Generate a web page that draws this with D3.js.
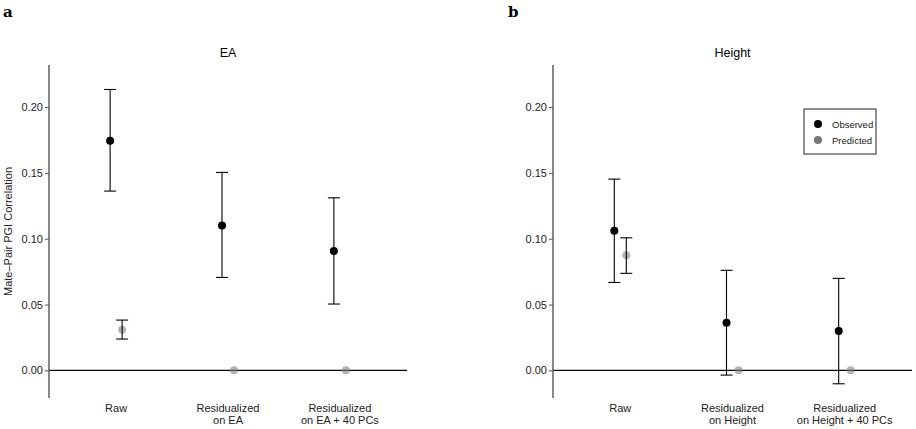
<!DOCTYPE html>
<html>
<head>
<meta charset="utf-8">
<script src="https://cdn.jsdelivr.net/npm/d3@7"></script>
<style>
  body { margin: 0; background: #fff; }
  svg text { font-family: "Liberation Sans", Arial, sans-serif; }
</style>
</head>
<body>
<svg id="chart" width="916" height="429"></svg>
<script>
// categories and values
const eaCategories = ['Raw', 'Residualized\non EA', 'Residualized\non EA + 40 PCs'];
const heightCategories = ['Raw', 'Residualized\non Height', 'Residualized\non Height + 40 PCs'];
const yTicks = [0, 0.05, 0.10, 0.15, 0.20];

const eaObserved = [0.1744, 0.1101, 0.0906];
const eaObservedLow = [0.1362, 0.0706, 0.0504];
const eaObservedHigh = [0.2134, 0.1504, 0.1311];
const eaPredicted = [0.0308, 0, 0];
const eaPredictedLow = [0.0238, null, null];
const eaPredictedHigh = [0.0382, null, null];

const heightObserved = [0.1060, 0.0362, 0.0299];
const heightObservedLow = [0.0668, -0.0036, -0.0102];
const heightObservedHigh = [0.1453, 0.0760, 0.0699];
const heightPredicted = [0.0874, 0, 0];
const heightPredictedLow = [0.0737, null, null];
const heightPredictedHigh = [0.1007, null, null];

const svg = d3.select('#chart');

const drawPanel = (opts) => {
  const { left, right, top, bottom, title, letter, letterX, categories, obs, obsLo, obsHi, pred, predLo, predHi, yLabel, legend } = opts;

  const y = d3.scaleLinear().domain([-0.021, 0.232]).range([bottom, top]);
  const x = d3.scalePoint().domain(categories).range([left, right]).padding(0.6);
  const dodge = 6;

  const g = svg.append('g');

  // panel letter
  svg.append('text')
    .attr('x', letterX).attr('y', 17)
    .style('font-family', '"DejaVu Serif", "Liberation Serif", serif')
    .style('font-weight', 'bold')
    .style('font-size', '15px')
    .text(letter);

  // title
  g.append('text')
    .attr('x', (left + right) / 2).attr('y', 57)
    .attr('text-anchor', 'middle')
    .style('font-size', '12.5px')
    .text(title);

  // zero line
  g.append('line')
    .attr('x1', left).attr('x2', right)
    .attr('y1', y(0)).attr('y2', y(0))
    .attr('stroke', '#000').attr('stroke-width', 1.1);

  // y axis
  const yAxis = d3.axisLeft(y).tickValues(yTicks).tickSize(4).tickPadding(2)
    .tickFormat(d3.format('.2f'));
  const ya = g.append('g').attr('transform', `translate(${left},0)`).call(yAxis);
  ya.select('.domain').attr('d', `M0,${top}V${bottom}`).attr('stroke', '#555').attr('stroke-width', 1.4);
  ya.selectAll('.tick line').attr('stroke', '#555');
  ya.selectAll('.tick text').style('font-size', '11px').attr('fill', '#222')
    .style('font-family', '"Liberation Sans", Arial, sans-serif');

  // x labels
  categories.forEach(c => {
    const lines = c.split('\n');
    const t = g.append('text')
      .attr('text-anchor', 'middle')
      .attr('y', 412)
      .style('font-size', '11px')
      .attr('fill', '#222');
    lines.forEach((l, i) => {
      t.append('tspan').attr('x', x(c)).attr('dy', i === 0 ? 0 : 12).text(l);
    });
  });

  // predicted points (behind error bars)
  categories.forEach((c, i) => {
    g.append('circle')
      .attr('cx', x(c) + dodge).attr('cy', y(pred[i])).attr('r', 4)
      .attr('fill', '#808080').attr('fill-opacity', 0.6);
  });

  const errorBar = (cx, lo, hi) => {
    g.append('line').attr('x1', cx).attr('x2', cx).attr('y1', y(lo)).attr('y2', y(hi))
      .attr('stroke', '#000').attr('stroke-width', 1.1);
    [lo, hi].forEach(v => {
      g.append('line').attr('x1', cx - 6).attr('x2', cx + 6).attr('y1', y(v)).attr('y2', y(v))
        .attr('stroke', '#000').attr('stroke-width', 1.1);
    });
  };

  categories.forEach((c, i) => {
    errorBar(x(c) - dodge, obsLo[i], obsHi[i]);
    if (predLo[i] !== null) errorBar(x(c) + dodge, predLo[i], predHi[i]);
  });

  categories.forEach((c, i) => {
    g.append('circle')
      .attr('cx', x(c) - dodge).attr('cy', y(obs[i])).attr('r', 4)
      .attr('fill', '#000');
  });

  if (yLabel) {
    svg.append('text')
      .attr('transform', `translate(12,${(top + bottom) / 2}) rotate(-90)`)
      .attr('text-anchor', 'middle')
      .style('font-size', '11px')
      .attr('fill', '#222')
      .text(yLabel);
  }

  if (legend) {
    const lg = g.append('g').attr('transform', 'translate(804,109)');
    lg.append('rect').attr('width', 72).attr('height', 45)
      .attr('fill', '#fff').attr('stroke', '#222').attr('stroke-width', 1);
    [['Observed', '#000'], ['Predicted', '#777']].forEach((d, i) => {
      lg.append('circle').attr('cx', 14).attr('cy', 15 + i * 16).attr('r', 4).attr('fill', d[1]);
      lg.append('text').attr('x', 28).attr('y', 19 + i * 16)
        .style('font-size', '9.5px').attr('fill', '#222').text(d[0]);
    });
  }
};

drawPanel({
  left: 49, right: 407, top: 65, bottom: 398,
  title: 'EA', letter: 'a', letterX: 3,
  categories: eaCategories,
  obs: eaObserved, obsLo: eaObservedLow, obsHi: eaObservedHigh,
  pred: eaPredicted, predLo: eaPredictedLow, predHi: eaPredictedHigh,
  yLabel: 'Mate\u2013Pair PGI Correlation'
});

drawPanel({
  left: 553, right: 912, top: 65, bottom: 398,
  title: 'Height', letter: 'b', letterX: 508,
  categories: heightCategories,
  obs: heightObserved, obsLo: heightObservedLow, obsHi: heightObservedHigh,
  pred: heightPredicted, predLo: heightPredictedLow, predHi: heightPredictedHigh,
  legend: true
});
</script>
</body>
</html>
